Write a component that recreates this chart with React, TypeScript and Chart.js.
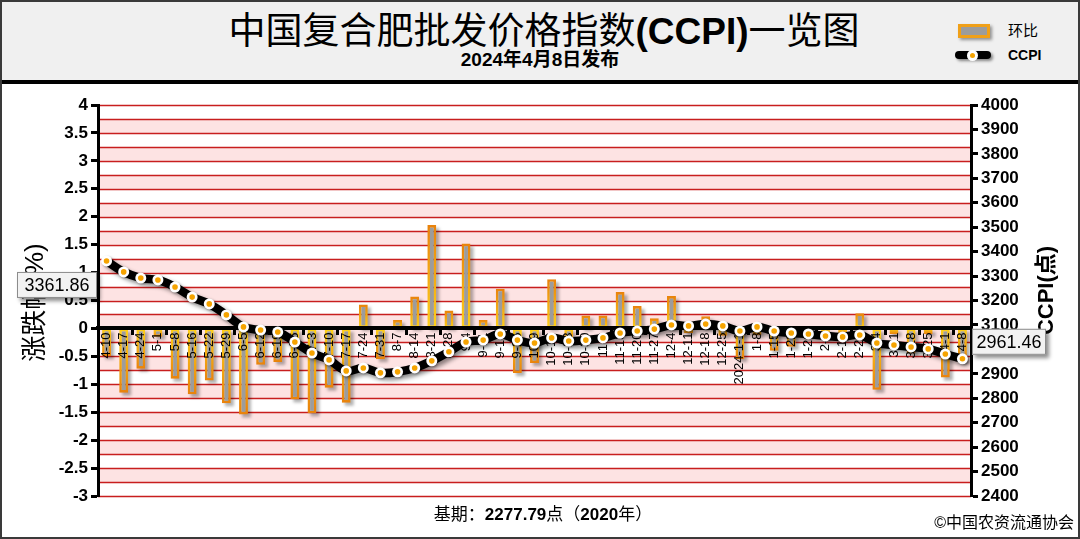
import React, { useEffect, useRef } from 'react';
import { Chart, registerables } from 'chart.js';

Chart.register(...registerables);

const categories = ['4-10','4-17','4-24','5-1','5-8','5-16','5-22','5-29','6-5','6-12','6-19','6-26','7-3','7-10','7-17','7-24','7-31','8-7','8-14','8-21','8-28','9-4','9-11','9-18','9-25','10-9','10-16','10-23','10-30','11-6','11-13','11-20','11-27','12-4','12-11','12-18','12-25','2024-1-1','1-8','1-15','1-22','1-29','2-5','2-19','2-26','3-4','3-11','3-18','3-25','4-1','4-8'];

const changePct = [-0.5,-1.15,-0.72,-0.15,-0.9,-1.18,-0.93,-1.34,-1.54,-0.65,-0.6,-1.27,-1.52,-1.06,-1.33,0.43,-0.55,0.15,0.57,1.85,0.32,1.52,0.15,0.71,-0.8,-0.62,0.88,-0.2,0.23,0.23,0.65,0.4,0.18,0.58,-0.08,0.22,-0.13,-0.55,-0.12,-0.4,-0.33,-0.05,-0.12,-0.1,0.27,-1.1,-0.1,-0.45,-0.1,-0.88,-0.58];

const ccpiValues = [3361.86,3317,3292,3284,3255,3214,3186,3141,3092,3079,3071,3030,2985,2957,2912,2924,2904,2908,2924,2953,2990,3030,3038,3063,3038,3026,3047,3034,3038,3047,3067,3075,3083,3100,3096,3104,3096,3075,3092,3075,3067,3063,3055,3051,3059,3026,3018,3010,3002,2981,2961.46];

const leftMin = -3;
const leftMax = 4;
const leftStep = 0.5;
const bandStep = 0.25;
const rightMin = 2400;
const rightMax = 4000;
const rightStep = 100;

const titleMain = '中国复合肥批发价格指数';
const titleCode = '(CCPI)';
const titleEnd = '一览图';
const subTitle = '2024年4月8日发布';
const leftAxisTitle = '涨跌幅(%)';
const rightAxisTitle = 'CCPI(点)';
const legendBar = '环比';
const legendLine = 'CCPI';

const FONT = "'Liberation Sans', Arial, 'Noto Sans CJK SC', sans-serif";
const CJK = "'Liberation Sans', 'Noto Sans CJK SC', sans-serif";

export default function App() {
  const ref = useRef<HTMLCanvasElement>(null);

  useEffect(() => {
    const canvas = ref.current;
    if (!canvas) return;

    const bandsPlugin = {
      id: 'bands',
      beforeDraw(chart: any) {
        const { ctx, chartArea: a } = chart;
        const ys = chart.scales.y;
        const n = Math.round((leftMax - leftMin) / bandStep);
        ctx.save();
        for (let i = 0; i < n; i++) {
          const v0 = leftMin + i * bandStep;
          const k = Math.round(v0 / bandStep);
          const pink = k >= 0 ? k % 2 === 0 : Math.abs(k) % 2 === 1;
          const yTop = ys.getPixelForValue(v0 + bandStep);
          const yBot = ys.getPixelForValue(v0);
          ctx.fillStyle = pink ? '#fde3e3' : '#ffffff';
          ctx.fillRect(a.left, yTop, a.right - a.left, yBot - yTop);
        }
        ctx.strokeStyle = '#c81e1e';
        ctx.lineWidth = 1.3;
        for (let i = 0; i <= n; i++) {
          const y = Math.round(ys.getPixelForValue(leftMin + i * bandStep)) + 0.5;
          ctx.beginPath();
          ctx.moveTo(a.left, y);
          ctx.lineTo(a.right, y);
          ctx.stroke();
        }
        ctx.restore();
      },
    };

    const layerPlugin = {
      id: 'layers',
      beforeDatasetDraw(chart: any, args: any) {
        const meta = args.meta;
        if (meta.type === 'line') return false;
        if (meta.type === 'bar') {
          const ctx = chart.ctx;
          ctx.save();
          ctx.fillStyle = 'rgba(0,0,0,0.3)';
          ctx.filter = 'blur(1.5px)';
          meta.data.forEach((el: any) => {
            const { x, y, base, width } = el.getProps(['x', 'y', 'base', 'width'], true);
            const top = Math.min(y, base);
            const h = Math.abs(base - y);
            ctx.fillRect(x - width / 2 + 3, top + 3, width, h);
          });
          ctx.restore();
        }
        return true;
      },
      afterDraw(chart: any) {
        const ctx = chart.ctx;
        const a = chart.chartArea;
        let firstPt: any = null;
        let lastPt: any = null;
        chart.getSortedVisibleDatasetMetas().forEach((meta: any) => {
          if (meta.type !== 'line') return;
          ctx.save();
          ctx.shadowColor = 'rgba(0,0,0,0.45)';
          ctx.shadowOffsetX = 3;
          ctx.shadowOffsetY = 3;
          ctx.shadowBlur = 4;
          meta.dataset.draw(ctx, a);
          ctx.restore();
          ctx.save();
          ctx.shadowColor = 'rgba(0,0,0,0.3)';
          ctx.shadowOffsetX = 1;
          ctx.shadowOffsetY = 1;
          ctx.shadowBlur = 2;
          meta.data.forEach((p: any) => p.draw(ctx, a));
          ctx.restore();
          ctx.save();
          ctx.fillStyle = '#f5a300';
          meta.data.forEach((p: any) => {
            const { x, y } = p.getProps(['x', 'y'], true);
            ctx.beginPath();
            ctx.arc(x, y, 2.8, 0, Math.PI * 2);
            ctx.fill();
          });
          ctx.restore();
          firstPt = meta.data[0].getProps(['x', 'y'], true);
          lastPt = meta.data[meta.data.length - 1].getProps(['x', 'y'], true);
        });

        const midY = (a.top + a.bottom) / 2;
        ctx.save();
        ctx.fillStyle = '#000';
        ctx.textAlign = 'center';
        ctx.textBaseline = 'middle';
        ctx.translate(36, midY + 2);
        ctx.rotate(-Math.PI / 2);
        ctx.font = `26px ${CJK}`;
        ctx.fillText(leftAxisTitle, 0, 0);
        ctx.restore();

        ctx.save();
        ctx.fillStyle = '#000';
        ctx.textAlign = 'center';
        ctx.textBaseline = 'middle';
        ctx.translate(1047, midY - 10);
        ctx.rotate(-Math.PI / 2);
        ctx.font = `bold 22px ${CJK}`;
        ctx.fillText(rightAxisTitle, 0, 0);
        ctx.restore();

        const drawBox = (text: string, xLeft: number, yTop: number, w: number, h: number) => {
          ctx.save();
          ctx.shadowColor = 'rgba(0,0,0,0.45)';
          ctx.shadowOffsetX = 3;
          ctx.shadowOffsetY = 3;
          ctx.shadowBlur = 4;
          ctx.fillStyle = '#f2f2f2';
          ctx.fillRect(xLeft, yTop, w, h);
          ctx.restore();
          ctx.save();
          ctx.strokeStyle = '#8c8c8c';
          ctx.lineWidth = 1;
          ctx.strokeRect(xLeft + 0.5, yTop + 0.5, w - 1, h - 1);
          ctx.fillStyle = '#000';
          ctx.font = `18px ${FONT}`;
          ctx.textAlign = 'center';
          ctx.textBaseline = 'middle';
          ctx.fillText(text, xLeft + w / 2, yTop + h / 2 + 1);
          ctx.restore();
        };
        if (firstPt) drawBox(ccpiValues[0].toFixed(2), a.left - 81, firstPt.y + 11, 80, 26);
        if (lastPt) drawBox(ccpiValues[ccpiValues.length - 1].toFixed(2), a.right + 1, lastPt.y - 30, 74, 26);
      },
    };

    const barBorder = (c: any) => {
      const fallback = '#f0a018';
      if (c.type !== 'data') return fallback;
      const ys = c.chart.scales && c.chart.scales.y;
      if (!ys) return fallback;
      const y0 = ys.getPixelForValue(0);
      const y1 = ys.getPixelForValue(c.raw);
      if (!isFinite(y0) || !isFinite(y1) || Math.abs(y0 - y1) < 1) return fallback;
      const g = c.chart.ctx.createLinearGradient(0, y1, 0, y0);
      g.addColorStop(0, '#e8820c');
      g.addColorStop(1, '#ffd21a');
      return g;
    };

    const tickFont = { family: FONT, size: 17, weight: 'bold' as const };

    const chart = new Chart(canvas, {
      type: 'bar',
      data: {
        labels: categories,
        datasets: [
          {
            type: 'line',
            label: legendLine,
            data: ccpiValues,
            yAxisID: 'y1',
            borderColor: '#000',
            borderWidth: 8.5,
            tension: 0.4,
            borderCapStyle: 'round',
            borderJoinStyle: 'round',
            pointRadius: 5.5,
            pointBackgroundColor: '#ffffff',
            pointBorderWidth: 0,
            order: 1,
          } as any,
          {
            type: 'bar',
            label: legendBar,
            data: changePct,
            yAxisID: 'y',
            backgroundColor: '#9c9c9c',
            borderColor: barBorder,
            borderWidth: 2.6,
            borderSkipped: false,
            barPercentage: 0.52,
            categoryPercentage: 1,
            order: 2,
          } as any,
        ],
      },
      options: {
        responsive: false,
        animation: false,
        events: [],
        layout: { padding: { top: 105, bottom: 43, left: 0, right: 0 } },
        plugins: { legend: { display: false }, tooltip: { enabled: false }, title: { display: false } },
        scales: {
          x: {
            type: 'category',
            position: { y: 0 } as any,
            offset: true,
            z: 1,
            grid: {
              drawOnChartArea: false,
              drawTicks: true,
              tickLength: 5,
              tickWidth: 3,
              tickColor: (c: any) => (typeof c.index === 'number' && c.index > 0 && c.index % 2 === 0 ? '#000' : 'rgba(0,0,0,0)'),
              offset: true,
              z: 1,
            },
            border: { display: true, color: '#000', width: 4, z: 1 },
            ticks: {
              autoSkip: false,
              minRotation: 90,
              maxRotation: 90,
              padding: -1,
              color: '#000',
              z: 1,
              font: { family: FONT, size: 13 },
            },
          } as any,
          y: {
            position: 'left',
            min: leftMin,
            max: leftMax,
            ticks: {
              stepSize: leftStep,
              color: '#000',
              font: tickFont,
              padding: 3,
              callback: (v: any) => String(Number(v)),
            },
            grid: { drawOnChartArea: false, drawTicks: true, tickLength: 7, tickWidth: 3, tickColor: '#000' },
            border: { display: true, color: '#000', width: 3 },
            afterFit: (s: any) => { s.width = 98; },
          } as any,
          y1: {
            position: 'right',
            min: rightMin,
            max: rightMax,
            ticks: {
              stepSize: rightStep,
              color: '#000',
              font: tickFont,
              padding: 3,
              callback: (v: any) => String(Number(v)),
            },
            grid: { drawOnChartArea: false, drawTicks: true, tickLength: 7, tickWidth: 3, tickColor: '#000' },
            border: { display: true, color: '#000', width: 3 },
            afterFit: (s: any) => { s.width = 109; },
          } as any,
        },
      },
      plugins: [bandsPlugin, layerPlugin],
    });

    return () => chart.destroy();
  }, []);

  return (
    <div style={{ position: 'relative', width: 1080, height: 539, background: '#fff', overflow: 'hidden', fontFamily: FONT }}>
      <style>{`body{margin:0;}`}</style>
      <div style={{ position: 'absolute', left: 0, top: 0, width: 1080, height: 80, background: '#f0f0f0', borderBottom: '4px solid #000' }} />
      <div style={{ position: 'absolute', left: 0, top: 6, width: 1088, textAlign: 'center', fontSize: 37, lineHeight: '44px', color: '#000', whiteSpace: 'nowrap' }}>
        <span style={{ fontFamily: "'Noto Sans CJK SC', sans-serif" }}>{titleMain}</span>
        <span style={{ fontFamily: "'Liberation Sans', Arial, sans-serif", fontWeight: 'bold' }}>{titleCode}</span>
        <span style={{ fontFamily: "'Noto Sans CJK SC', sans-serif" }}>{titleEnd}</span>
      </div>
      <div style={{ position: 'absolute', left: 0, top: 48, width: 1080, textAlign: 'center', fontSize: 19, lineHeight: '24px', fontWeight: 'bold', color: '#000', fontFamily: CJK }}>
        {subTitle}
      </div>
      <div style={{ position: 'absolute', left: 958, top: 24, width: 32, height: 14, boxSizing: 'border-box', background: '#9c9c9c', border: '3px solid #f0a018', boxShadow: '2px 2px 3px rgba(0,0,0,0.4)' }} />
      <div style={{ position: 'absolute', left: 1008, top: 21, fontSize: 15, lineHeight: '20px', fontFamily: CJK, color: '#000' }}>{legendBar}</div>
      <div style={{ position: 'absolute', left: 955, top: 51, width: 36, height: 8, borderRadius: 4, background: '#000', boxShadow: '2px 2px 3px rgba(0,0,0,0.45)' }} />
      <div style={{ position: 'absolute', left: 967, top: 49.5, width: 11, height: 11, borderRadius: 6, background: '#fff' }} />
      <div style={{ position: 'absolute', left: 970, top: 52.5, width: 5, height: 5, borderRadius: 3, background: '#f5a300' }} />
      <div style={{ position: 'absolute', left: 1008, top: 46, fontSize: 14, lineHeight: '18px', fontWeight: 'bold', color: '#000' }}>{legendLine}</div>

      <canvas ref={ref} width={1080} height={539} style={{ position: 'absolute', left: 0, top: 0, width: 1080, height: 539 }} />

      <div style={{ position: 'absolute', left: 0, top: 504, width: 1086, textAlign: 'center', fontSize: 17, lineHeight: '22px', color: '#000', fontFamily: CJK, whiteSpace: 'nowrap' }}>
        基期：<b>2277.79</b>点（<b>2020</b>年）
      </div>
      <div style={{ position: 'absolute', right: 6, top: 512, fontSize: 16, lineHeight: '22px', color: '#000', fontFamily: CJK, whiteSpace: 'nowrap' }}>
        ©中国农资流通协会
      </div>
      <div style={{ position: 'absolute', left: 0, top: 0, width: 1080, height: 539, boxSizing: 'border-box', border: '2px solid #3a3a3a', pointerEvents: 'none' }} />
    </div>
  );
}
